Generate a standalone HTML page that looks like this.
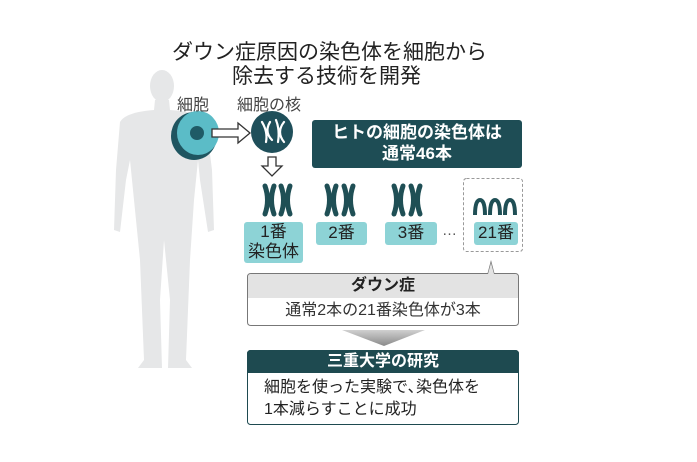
<!DOCTYPE html>
<html><head><meta charset="utf-8"><style>
body{margin:0;width:697px;height:462px;background:#fff;position:relative;overflow:hidden;font-family:"Liberation Sans","Noto Sans CJK JP",sans-serif;color:#222}
.a{position:absolute;white-space:nowrap}
.lb{position:absolute;background:#8dd3d6;border-radius:3px;text-align:center;font-size:17px;line-height:22px;color:#222}
</style></head><body>
<svg width="697" height="462" style="position:absolute;left:0;top:0">
<defs>
<linearGradient id="tg" x1="0" y1="0" x2="0" y2="1"><stop offset="0" stop-color="#d0d0d0"/><stop offset="1" stop-color="#8a8a8a"/></linearGradient>
<g id="x" stroke="#1f4f55" stroke-width="5" fill="none" stroke-linecap="round">
<path d="M2 2 Q7 16 2 30"/><path d="M11 2 Q6 16 11 30"/>
</g>
</defs>
<!-- silhouette -->
<g fill="#e6e7e8">
<ellipse cx="162" cy="86" rx="12" ry="16"/>
<path d="M155 100 L169 100 L170 110 Q200 112 206 122 L212 170 L214 230 L208 232 L200 180 L198 160 L194 200 L190 260 L186 360 L192 368 L168 368 L170 300 L164 240 L160 300 L162 368 L138 368 L144 360 L140 260 L134 200 L130 160 L126 180 L120 232 L114 230 L116 170 L120 122 Q126 112 154 110 Z"/>
</g>
<!-- cell -->
<ellipse cx="194" cy="136" rx="23" ry="24" fill="#1f5560"/>
<ellipse cx="198" cy="133" rx="21" ry="22" fill="#5bbcc7"/>
<circle cx="197" cy="133" r="7" fill="#1f5b66"/>
<path d="M212 129 L238 129 L238 123 L250 133 L238 143 L238 137 L212 137 Z" fill="#fff" stroke="#333" stroke-width="1.3"/>
<circle cx="272" cy="132" r="21" fill="#1f4f5a"/>
<g stroke="#fff" stroke-width="2.2" fill="none" stroke-linecap="round">
<path d="M262 122 Q268 132 266 142 M270 122 Q264 132 272 140"/>
<path d="M276 120 Q280 130 278 142 M284 122 Q276 132 284 142"/>
</g>
<path d="M268 157 L276 157 L276 166 L282 166 L272 176 L262 166 L268 166 Z" fill="#fff" stroke="#333" stroke-width="1.3"/>
<use href="#x" x="263" y="184"/><use href="#x" x="279" y="184"/>
<use href="#x" x="325" y="184"/><use href="#x" x="342" y="184"/>
<use href="#x" x="392" y="184"/><use href="#x" x="409" y="184"/>
<g stroke="#1f4f55" stroke-width="4" fill="none">
<path d="M475 215 Q475 200 480 200 Q485 200 485 215"/>
<path d="M490 215 Q490 200 495 200 Q500 200 500 215"/>
<path d="M505 215 Q505 200 510 200 Q515 200 515 215"/>
</g>
<rect x="463.5" y="178.5" width="59" height="73" rx="3" fill="none" stroke="#999" stroke-dasharray="3,2"/>
<path d="M251 273.5 L488 273.5 L491 262 L494 273.5 L515 273.5 Q518.5 273.5 518.5 277 L518.5 322 Q518.5 325.5 515 325.5 L251 325.5 Q247.5 325.5 247.5 322 L247.5 277 Q247.5 273.5 251 273.5Z" fill="#fff" stroke="#777"/>
<path d="M248 277 Q248 274 251 274 L488 274 L491 263 L494 274 L515 274 Q518 274 518 277 L518 298 L248 298Z" fill="#e3e3e3"/>
<path d="M342 330 L425 330 L384 346 Z" fill="url(#tg)"/>
<rect x="247.5" y="350.5" width="271" height="74" rx="3" fill="#fff" stroke="#1e4a50"/>
<path d="M247 354 Q247 350 251 350 L515 350 Q519 350 519 354 L519 373 L247 373Z" fill="#1e4a50"/>
<rect x="312" y="120" width="210" height="48" rx="3" fill="#1e4d55"/>
</svg>
<div class="a" style="left:172px;top:36px;font-size:21px">ダウン症原因の染色体を細胞から</div>
<div class="a" style="left:232px;top:60px;font-size:21px">除去する技術を開発</div>
<div class="a" style="left:177px;top:91px;font-size:16px;color:#444">細胞</div>
<div class="a" style="left:237px;top:91px;font-size:16px;color:#444">細胞の核</div>
<div class="a" style="left:312px;top:122px;width:210px;text-align:center;color:#fff;font-weight:bold;font-size:17px;line-height:21px">ヒトの細胞の染色体は<br>通常46本</div>
<div class="lb" style="left:244px;top:222px;width:59px;height:41px;line-height:20px">1番<br>染色体</div>
<div class="lb" style="left:316px;top:222px;width:51px;height:23px">2番</div>
<div class="lb" style="left:385px;top:222px;width:52px;height:23px">3番</div>
<div class="a" style="left:442px;top:222px;font-size:15px;color:#555">…</div>
<div class="lb" style="left:474px;top:222px;width:44px;height:23px">21番</div>
<div class="a" style="left:248px;top:275px;width:270px;text-align:center;font-weight:bold;font-size:16px;line-height:22px">ダウン症</div>
<div class="a" style="left:248px;top:300px;width:270px;text-align:center;font-size:16px;line-height:22px;color:#333">通常2本の21番染色体が3本</div>
<div class="a" style="left:248px;top:351px;width:270px;text-align:center;font-weight:bold;font-size:16px;line-height:22px;color:#fff">三重大学の研究</div>
<div class="a" style="left:264px;top:377px;font-size:16px;line-height:22px">細胞を使った実験で､染色体を<br>1本減らすことに成功</div>
</body></html>
